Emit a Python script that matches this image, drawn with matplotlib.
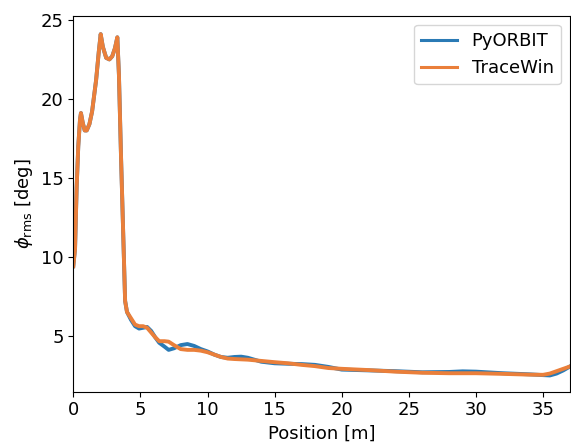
import numpy as np
import matplotlib
matplotlib.use("Agg")
import matplotlib.pyplot as plt

# TraceWin phi_rms vs position
pos_tw = [0, 0.13, 0.25, 0.37, 0.5, 0.57, 0.7, 0.85, 1.0, 1.2, 1.4, 1.7, 1.9, 2.04,
          2.2, 2.45, 2.69, 2.9, 3.1, 3.28, 3.4, 3.55, 3.7, 3.86, 4.0, 4.3, 4.6, 4.9,
          5.2, 5.5, 5.8, 6.1, 6.4, 6.8, 7.1, 7.5, 8.0, 8.5, 9.0, 9.5, 10, 10.5, 11,
          11.5, 12, 13, 14, 15, 16, 17, 18, 19, 20, 22, 24, 26, 28, 30, 32, 34, 35,
          35.5, 36, 36.5, 37]
phi_tw = [9.4, 10.5, 14.4, 17.0, 18.7, 19.1, 18.5, 18.0, 18.0, 18.4, 19.2, 21.2, 23.0,
          24.1, 23.3, 22.6, 22.5, 22.7, 23.2, 23.9, 21.5, 16.5, 12.0, 7.2, 6.5, 6.1,
          5.7, 5.6, 5.6, 5.5, 5.2, 4.9, 4.65, 4.65, 4.62, 4.4, 4.15, 4.1, 4.1, 4.05,
          3.95, 3.8, 3.65, 3.55, 3.52, 3.48, 3.4, 3.32, 3.25, 3.15, 3.07, 2.95, 2.9,
          2.82, 2.72, 2.65, 2.62, 2.62, 2.58, 2.53, 2.52, 2.6, 2.75, 2.9, 3.05]

# PyORBIT phi_rms vs position
pos_py = [0, 0.13, 0.25, 0.37, 0.5, 0.57, 0.7, 0.85, 1.0, 1.2, 1.4, 1.7, 1.9, 2.04,
          2.2, 2.45, 2.69, 2.9, 3.1, 3.28, 3.4, 3.55, 3.7, 3.86, 4.0, 4.3, 4.6, 4.9,
          5.2, 5.5, 5.8, 6.1, 6.4, 6.8, 7.1, 7.5, 8.0, 8.5, 9.0, 9.5, 10, 10.5, 11,
          11.5, 12, 12.5, 13, 14, 15, 16, 17, 18, 19, 20, 22, 24, 26, 28, 29, 30, 32,
          34, 35, 35.5, 36, 36.5, 37]
phi_py = [9.4, 10.5, 14.4, 17.0, 18.7, 19.1, 18.5, 18.0, 18.0, 18.4, 19.2, 21.2, 23.0,
          24.1, 23.3, 22.6, 22.5, 22.7, 23.2, 23.9, 21.5, 16.5, 12.0, 7.2, 6.5, 6.0,
          5.6, 5.45, 5.5, 5.55, 5.3, 4.9, 4.55, 4.3, 4.1, 4.2, 4.4, 4.47, 4.35, 4.15,
          4.0, 3.8, 3.65, 3.6, 3.65, 3.67, 3.6, 3.35, 3.25, 3.22, 3.2, 3.15, 3.02, 2.85,
          2.8, 2.75, 2.68, 2.7, 2.74, 2.72, 2.62, 2.55, 2.5, 2.48, 2.6, 2.8, 3.05]

plt.rcParams["font.size"] = 13

fig = plt.figure(figsize=(5.71, 4.45), dpi=100)
ax = fig.add_axes([73.3 / 571, (445 - 391.7) / 445, (570 - 73.3) / 571, (391.7 - 15.7) / 445])

ax.plot(pos_py, phi_py, color="#2a7ab5", lw=2.8, label="PyORBIT")
ax.plot(pos_tw, phi_tw, color="#ea7f3a", lw=2.8, label="TraceWin")

ax.set_xlim(0, 37)
ax.set_ylim(1.45, 25.27)
ax.set_xlabel("Position [m]")
ax.set_ylabel(r"$\phi_{\rm rms}$ [deg]")
leg = ax.legend(loc="upper right")
for line in leg.get_lines():
    line.set_linewidth(2.2)

fig.savefig("out.png", dpi=100)
